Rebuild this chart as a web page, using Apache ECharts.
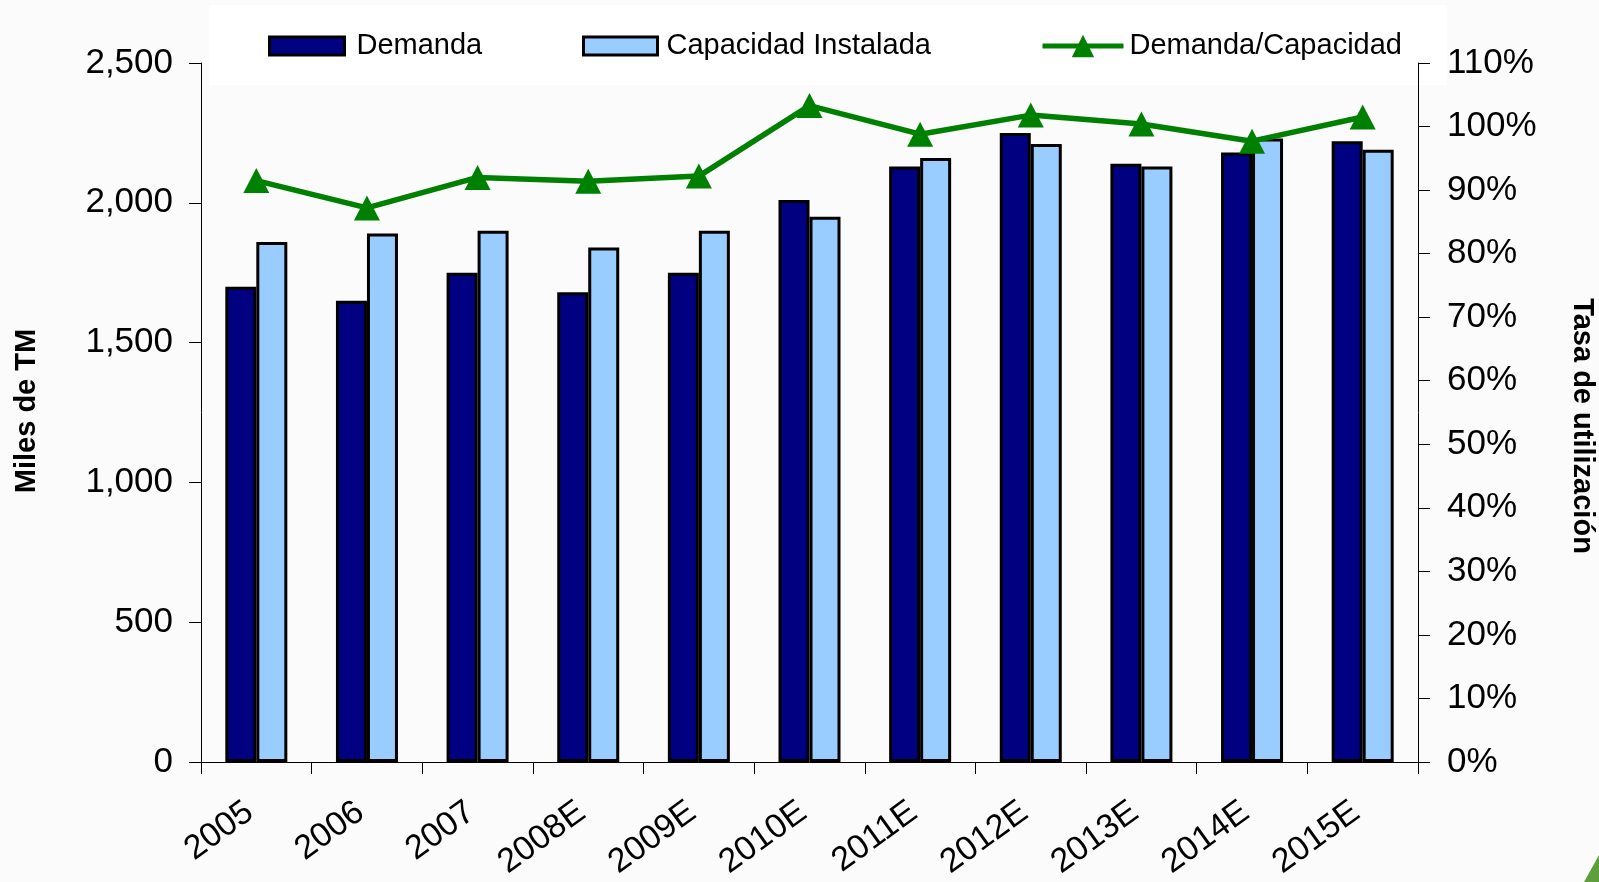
<!DOCTYPE html>
<html>
<head>
<meta charset="utf-8">
<script src="https://cdn.jsdelivr.net/npm/echarts@6/dist/echarts.min.js"></script>
<style>
html,body{margin:0;padding:0;background:#fbfbfb;}
#c{width:1599px;height:882px;}
</style>
</head>
<body>
<div id="c"></div>
<script>
const categories = ['2005','2006','2007','2008E','2009E','2010E','2011E','2012E','2013E','2014E','2015E'];
const demanda = [1700,1650,1750,1680,1750,2010,2130,2250,2140,2180,2220];
const capacidad = [1860,1890,1900,1840,1900,1950,2160,2210,2130,2230,2190];
const ratio = [91.5,87.2,92.0,91.4,92.2,103.3,98.8,101.8,100.4,97.7,101.5];

const FONT = '"Liberation Sans", Arial, sans-serif';
const chart = echarts.init(document.getElementById('c'));
const legendText = {fontFamily: FONT, fontSize: 29, lineHeight: 30, color: '#000'};
chart.setOption({
  backgroundColor: '#fbfbfb',
  animation: false,
  textStyle: {fontFamily: FONT},
  graphic: [
    {type: 'rect', z: -10, silent: true, shape: {x: 209, y: 5, width: 1238, height: 80}, style: {fill: '#ffffff'}},
    {type: 'text', x: 27, y: 411, rotation: Math.PI / 2, style: {text: 'Miles de TM', fontFamily: FONT, fontSize: 29, fontWeight: 'bold', fill: '#000', align: 'center', verticalAlign: 'middle'}},
    {type: 'text', x: 1582, y: 426, rotation: -Math.PI / 2, style: {text: 'Tasa de utilización', fontFamily: FONT, fontSize: 29, fontWeight: 'bold', fill: '#000', align: 'center', verticalAlign: 'middle'}},
    {type: 'polygon', silent: true, shape: {points: [[1599, 855], [1599, 882], [1584, 882]]}, style: {fill: '#5f9e3c'}}
  ],
  legend: [
    {data: [{name: 'Demanda', icon: 'rect'}], left: 263, top: 26, itemWidth: 75, itemHeight: 18, itemStyle: {borderColor: '#000', borderWidth: 3}, textStyle: Object.assign({padding: [0, 0, 0, 7]}, legendText)},
    {data: [{name: 'Capacidad Instalada', icon: 'rect'}], left: 577, top: 26, itemWidth: 74, itemHeight: 18, itemStyle: {borderColor: '#000', borderWidth: 3}, textStyle: Object.assign({padding: [0, 0, 0, 4]}, legendText)},
    {data: ['Demanda/Capacidad'], left: 1035, top: 26, itemWidth: 81, itemHeight: 28, lineStyle: {width: 5, color: '#008000'}, textStyle: Object.assign({padding: [0, 0, 0, 1]}, legendText)}
  ],
  grid: {left: 201, right: 181, top: 63, bottom: 120, containLabel: false},
  xAxis: {
    type: 'category',
    data: categories,
    axisLine: {lineStyle: {color: '#000', width: 1}},
    axisTick: {show: true, length: 12, alignWithLabel: false, lineStyle: {color: '#000'}},
    axisLabel: {rotate: 36, fontSize: 34, color: '#000', margin: 42, padding: [0, 8, 0, 0], interval: 0, fontFamily: FONT},
    splitLine: {show: false}
  },
  yAxis: [
    {
      type: 'value', min: 0, max: 2500, interval: 500, position: 'left',
      axisLine: {show: true, lineStyle: {color: '#000', width: 1}},
      axisTick: {show: true, length: 12, lineStyle: {color: '#000'}},
      axisLabel: {fontSize: 35, color: '#000', margin: 28, fontFamily: FONT,
        formatter: v => v.toLocaleString('en-US')},
      splitLine: {show: false}
    },
    {
      type: 'value', min: 0, max: 110, interval: 10, position: 'right',
      axisLine: {show: true, lineStyle: {color: '#000', width: 1}},
      axisTick: {show: true, length: 12, lineStyle: {color: '#000'}},
      axisLabel: {fontSize: 35, color: '#000', margin: 29, fontFamily: FONT, formatter: '{value}%'},
      splitLine: {show: false}
    }
  ],
  series: [
    {name: 'Demanda', type: 'bar', data: demanda, barWidth: 31, barGap: '0%',
      itemStyle: {color: '#000080', borderColor: '#000', borderWidth: 3}},
    {name: 'Capacidad Instalada', type: 'bar', data: capacidad, barWidth: 31, barGap: '0%',
      itemStyle: {color: '#99ccff', borderColor: '#000', borderWidth: 3}},
    {name: 'Demanda/Capacidad', type: 'line', yAxisIndex: 1, data: ratio, z: 5,
      symbol: 'triangle', symbolSize: [26, 25],
      lineStyle: {color: '#008000', width: 5.5}, itemStyle: {color: '#008000'}}
  ]
});
</script>
</body>
</html>
